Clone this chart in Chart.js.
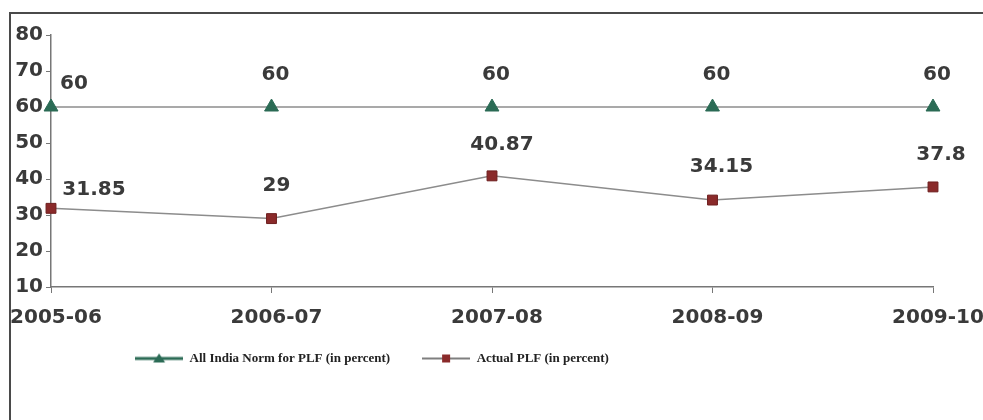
<!DOCTYPE html>
<html>
<head>
<meta charset="utf-8">
<script src="https://cdn.jsdelivr.net/npm/chart.js@4/dist/chart.umd.min.js"></script>
<style>
  html, body { margin: 0; padding: 0; background: #fff; overflow: hidden; }
  #frame { position: absolute; left: 9px; top: 12px; width: 1000px; height: 440px;
           border-left: 2px solid #4a4a4a; border-top: 2px solid #4a4a4a; }
  #wrap { position: absolute; left: 0; top: 0; width: 983px; height: 420px; }
</style>
</head>
<body>
<div id="frame"></div>
<div id="wrap"><canvas id="plf"></canvas></div>
<script>
// Financial years on the category axis
const years = ['2005-06', '2006-07', '2007-08', '2008-09', '2009-10'];
// Plant load factor, in percent
const normPLF = [60, 60, 60, 60, 60];
const actualPLF = [31.85, 29, 40.87, 34.15, 37.8];
// Value axis range and step
const yMin = 10, yMax = 80, yStep = 10;
const seriesNames = ['All India Norm for PLF (in percent)', 'Actual PLF (in percent)'];

const TEXT = '#3a3a3a';
const GREEN = '#2b6b55';
const RED = '#8a2a2a';
const LINE = '#8c8c8c';
const boldFont = { family: '"DejaVu Sans", Verdana, sans-serif', size: 20, weight: 'bold' };

// Legend swatch: a short line with the series marker in its middle
function swatch(lineColor, lineWidth, marker, color) {
  const c = document.createElement('canvas');
  c.width = 48; c.height = 14;
  const g = c.getContext('2d');
  g.strokeStyle = lineColor; g.lineWidth = lineWidth;
  g.beginPath(); g.moveTo(0, 7); g.lineTo(48, 7); g.stroke();
  g.fillStyle = color;
  if (marker === 'triangle') {
    g.beginPath(); g.moveTo(24, 2); g.lineTo(30, 11); g.lineTo(18, 11); g.closePath(); g.fill();
  } else {
    g.fillRect(20, 3, 8, 8);
  }
  return c;
}
const swatches = [swatch(GREEN, 3, 'triangle', GREEN), swatch('#555', 1.5, 'rect', RED)];

// Value labels above the points (offsets per point index)
const valueLabels = {
  id: 'valueLabels',
  afterDatasetsDraw(chart, args, opts) {
    const ctx = chart.ctx;
    ctx.save();
    ctx.font = `${boldFont.weight} ${boldFont.size}px ${boldFont.family}`;
    ctx.fillStyle = TEXT;
    ctx.textAlign = 'center';
    ctx.textBaseline = 'middle';
    chart.data.datasets.forEach((ds, di) => {
      const meta = chart.getDatasetMeta(di);
      const off = opts.offsets[di];
      meta.data.forEach((pt, i) => {
        const o = off[i] || off[off.length - 1];
        ctx.fillText(String(ds.data[i]), pt.x + o[0], pt.y - o[1]);
      });
    });
    ctx.restore();
  }
};

// Place the legend row under the axis labels
const legendPlace = {
  id: 'legendPlace',
  afterLayout(chart, args, opts) {
    const lg = chart.legend;
    if (!lg) return;
    const w = lg.right - lg.left;
    lg.left = opts.centerX - w / 2;
    lg.right = opts.centerX + w / 2;
    lg.top = opts.top;
  }
};

new Chart(document.getElementById('plf'), {
  type: 'line',
  data: {
    labels: years,
    datasets: [
      {
        label: seriesNames[0],
        data: normPLF,
        borderColor: LINE,
        borderWidth: 1.5,
        pointStyle: 'triangle',
        pointRadius: 8,
        pointBackgroundColor: GREEN,
        pointBorderColor: GREEN,
        pointBorderWidth: 1,
        tension: 0
      },
      {
        label: seriesNames[1],
        data: actualPLF,
        borderColor: LINE,
        borderWidth: 1.5,
        pointStyle: 'rect',
        pointRadius: 7,
        pointBackgroundColor: RED,
        pointBorderColor: '#6e1f1f',
        pointBorderWidth: 1,
        tension: 0
      }
    ]
  },
  options: {
    responsive: true,
    maintainAspectRatio: false,
    animation: false,
    events: [],
    layout: { padding: { left: 0, right: 50, top: 35, bottom: 0 } },
    scales: {
      x: {
        offset: false,
        grid: { drawOnChartArea: false, tickLength: 6, color: '#777', lineWidth: 1 },
        border: { display: true, color: '#777', width: 1.5 },
        ticks: { autoSkip: false, maxRotation: 0, color: TEXT, font: boldFont, padding: 13, labelOffset: 5 },
        afterFit(scale) {
          scale.height = 78;
          scale.paddingLeft = 0;
          scale.paddingRight = 0;
        }
      },
      y: {
        min: yMin, max: yMax,
        grid: { drawOnChartArea: false, tickLength: 5, color: '#777', lineWidth: 1 },
        border: { display: true, color: '#777', width: 1.5 },
        ticks: { stepSize: yStep, color: TEXT, font: boldFont, padding: 3 },
        afterFit(scale) { scale.width = 51; }
      }
    },
    plugins: {
      tooltip: { enabled: false },
      legend: {
        position: 'bottom',
        labels: {
          usePointStyle: true,
          pointStyleWidth: 48,
          padding: 32,
          color: '#222',
          font: { family: '"Liberation Serif", "Times New Roman", serif', size: 13, weight: 'bold' },
          generateLabels(chart) {
            return chart.data.datasets.map((ds, i) => ({
              text: ds.label,
              pointStyle: swatches[i],
              fillStyle: 'transparent',
              strokeStyle: 'transparent',
              lineWidth: 0,
              fontColor: '#222',
              datasetIndex: i
            }));
          }
        }
      },
      legendPlace: { centerX: 372, top: 320 },
      valueLabels: {
        offsets: [
          [[23, 23], [4, 32]],
          [[43, 19], [5, 33], [10, 31], [9, 33], [8, 32]]
        ]
      }
    }
  },
  plugins: [valueLabels, legendPlace]
});
</script>
</body>
</html>
